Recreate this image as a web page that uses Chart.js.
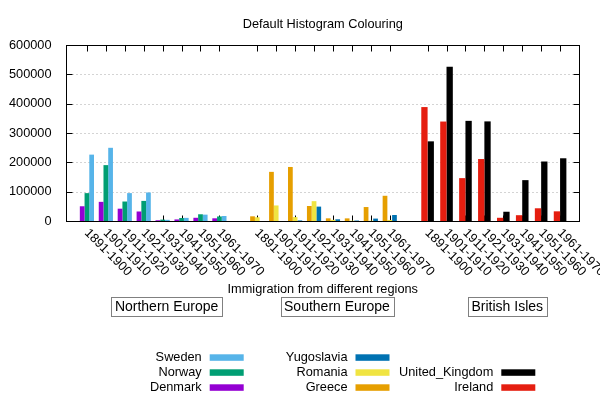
<!DOCTYPE html>
<html>
<head>
<meta charset="utf-8">
<title>Default Histogram Colouring</title>
<script src="https://cdn.jsdelivr.net/npm/chart.js@4.4.1/dist/chart.umd.min.js"></script>
<style>
    html, body { margin: 0; padding: 0; background: #fff; }
    #wrap { position: relative; width: 600px; height: 400px; }
</style>
</head>
<body>
<div id="wrap"><canvas id="histo"></canvas></div>
<script>
// données : une grappe de barres par décennie
const decades = ['1891-1900', '1901-1910', '1911-1920', '1921-1930', '1931-1940', '1941-1950', '1951-1960', '1961-1970'];

const denmark = [50231, 65285, 41983, 32430, 2559, 5393, 10984, 9201];
const norway = [95015, 190505, 66395, 68531, 4740, 10100, 22935, 15484];
const sweden = [226266, 249534, 95074, 97249, 3960, 10665, 21697, 17116];
const greece = [15979, 167519, 184201, 51084, 9119, 8973, 47608, 85969];
const romania = [12750, 53008, 13311, 67646, 3871, 1076, 1039, 3531];
const yugoslavia = [0, 0, 1888, 49064, 5835, 1576, 8225, 20381];
const ireland = [388416, 339065, 146181, 211234, 10973, 19789, 43362, 32966];
const unitedKingdom = [271538, 525950, 341408, 339570, 31572, 139306, 202824, 213822];

const groupTitles = ['Northern Europe', 'Southern Europe', 'British Isles'];
const groupCountries = [
    ['Denmark', 'Norway', 'Sweden'],
    ['Greece', 'Romania', 'Yugoslavia'],
    ['Ireland', 'United_Kingdom']
];
const seriesValues = {
    Denmark: denmark, Norway: norway, Sweden: sweden,
    Greece: greece, Romania: romania, Yugoslavia: yugoslavia,
    Ireland: ireland, United_Kingdom: unitedKingdom
};
const yTicks = [0, 100000, 200000, 300000, 400000, 500000, 600000];

// couleurs gnuplot par défaut
const colours = {
    Denmark: '#9400d3', Norway: '#009e73', Sweden: '#56b4e9',
    Greece: '#e69f00', Romania: '#f0e442', Yugoslavia: '#0072b2',
    Ireland: '#e51e10', United_Kingdom: '#000000'
};

const FONT = '"Liberation Sans", Arial, sans-serif';

// catégories : une case vide avant, entre et après chaque groupe
let labels = [''];
let groupStart = [];
groupCountries.forEach(() => {
    groupStart.push(labels.length);
    decades.forEach(d => labels.push(d));
    labels.push('');
});

// un dataset par pays, null hors de son groupe
let datasets = [];
groupCountries.forEach((countries, g) => {
    countries.forEach(name => {
        let data = labels.map(() => null);
        seriesValues[name].forEach((v, i) => { data[groupStart[g] + i] = v; });
        datasets.push({
            label: name,
            data: data,
            backgroundColor: colours[name],
            borderWidth: 0,
            skipNull: true,
            barPercentage: 1,
            categoryPercentage: countries.length / (countries.length + 1)
        });
    });
});

function line(ctx, x1, y1, x2, y2) {
    ctx.beginPath();
    ctx.moveTo(x1, y1);
    ctx.lineTo(x2, y2);
    ctx.stroke();
}

// cadre, graduations, grille et textes façon gnuplot
const decor = {
    id: 'decor',
    beforeDatasetsDraw(chart) {
        const { ctx, chartArea: a, scales: { x, y } } = chart;
        const L = a.left - 1.5, R = a.right + 0.5, T = a.top + 0.5, B = a.bottom + 0.5;
        ctx.save();
        ctx.lineWidth = 1;
        // grille en pointillés
        ctx.strokeStyle = '#a8a8a8';
        ctx.setLineDash([1, 3]);
        yTicks.slice(1, -1).forEach(v => {
            const py = Math.round(y.getPixelForValue(v)) + 0.5;
            line(ctx, L + 6, py, R - 6, py);
        });
        ctx.setLineDash([]);
        ctx.strokeStyle = '#000';
        yTicks.forEach(v => {
            const py = Math.round(y.getPixelForValue(v)) + 0.5;
            line(ctx, L, py, L + 6, py);
            line(ctx, R - 6, py, R, py);
        });
        groupStart.forEach(s => {
            decades.forEach((d, i) => {
                const px = Math.round(x.getPixelForValue(s + i)) + 0.5;
                line(ctx, px, T, px, T + 6);
                line(ctx, px, B - 6, px, B);
            });
        });
        ctx.restore();
    },
    afterDatasetsDraw(chart) {
        const { ctx, chartArea: a } = chart;
        ctx.save();
        ctx.strokeStyle = '#000';
        ctx.lineWidth = 1;
        ctx.strokeRect(a.left - 1.5, a.top + 0.5, a.right - a.left + 2, a.bottom - a.top);
        ctx.restore();
    },
    afterDraw(chart) {
        const { ctx, chartArea: a, scales: { x } } = chart;
        const midX = (a.left - 1.5 + a.right) / 2;
        ctx.save();
        ctx.fillStyle = '#000';
        ctx.font = '12.75px ' + FONT;
        ctx.textBaseline = 'middle';

        // titre
        ctx.textAlign = 'center';
        ctx.fillText('Default Histogram Colouring', midX, 24);

        // étiquettes des décennies, tournées de 45°
        ctx.textAlign = 'left';
        groupStart.forEach(s => {
            decades.forEach((d, i) => {
                const px = x.getPixelForValue(s + i);
                ctx.save();
                ctx.translate(px - 0.5, 231);
                ctx.rotate(Math.PI / 4);
                ctx.fillText(d, 0, 0);
                ctx.restore();
            });
        });

        // titre de l'axe x
        ctx.textAlign = 'center';
        ctx.fillText('Immigration from different regions', midX, 289);

        // titres des groupes encadrés
        ctx.font = '14px ' + FONT;
        ctx.strokeStyle = '#808080';
        ctx.lineWidth = 1;
        groupTitles.forEach((t, g) => {
            const cx = x.getPixelForValue(groupStart[g] + 4) + 4;
            const w = ctx.measureText(t).width + 7;
            ctx.fillText(t, cx, 307);
            ctx.strokeRect(Math.round(cx - w / 2) + 0.5, 297.5, Math.round(w), 19);
        });

        // légende : colonnes remplies de bas en haut
        ctx.font = '12.75px ' + FONT;
        ctx.textAlign = 'right';
        groupCountries.forEach((countries, g) => {
            const colX = 201.7 + 145.8 * g;
            countries.forEach((name, k) => {
                const rowY = 387.3 - 15 * k;
                ctx.fillStyle = '#000';
                ctx.fillText(name, colX, rowY);
                ctx.fillStyle = colours[name];
                ctx.fillRect(colX + 8, rowY - 3, 34, 6.5);
            });
        });
        ctx.restore();
    }
};

new Chart(document.getElementById('histo'), {
    type: 'bar',
    data: { labels: labels, datasets: datasets },
    options: {
        responsive: true,
        maintainAspectRatio: false,
        animation: false,
        layout: { padding: { left: 0, right: 21, top: 45, bottom: 179 } },
        plugins: {
            legend: { display: false },
            title: { display: false },
            tooltip: { enabled: false }
        },
        scales: {
            x: {
                type: 'category',
                display: false,
                offset: false
            },
            y: {
                min: 0,
                max: 600000,
                afterBuildTicks: s => { s.ticks = yTicks.map(v => ({ value: v })); },
                afterFit: s => { s.width = 68; },
                grid: { display: false },
                border: { display: false },
                ticks: {
                    color: '#000',
                    padding: 8.5,
                    font: { family: FONT, size: 12.75 },
                    callback: v => String(v)
                }
            }
        }
    },
    plugins: [decor]
});
</script>
</body>
</html>
